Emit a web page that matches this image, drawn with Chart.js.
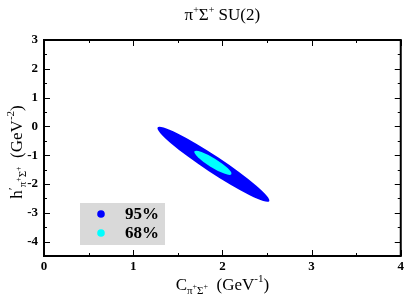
<!DOCTYPE html>
<html><head><meta charset="utf-8">
<script src="https://cdn.jsdelivr.net/npm/chart.js@4.4.1/dist/chart.umd.min.js"></script>
<style>html,body{margin:0;padding:0;background:#fff}#wrap{width:407px;height:300px}</style>
</head><body><div id="wrap"><canvas id="c" width="407" height="300"></canvas></div>
<script>
// ---- data ----
const contourLabels = ['95%', '68%'];
// major-axis end points of each confidence ellipse (data units)
const tipAx = [1.274, 1.687];
const tipAy = [-0.035, -0.865];
const tipBx = [2.525, 2.100];
const tipBy = [-2.595, -1.660];
// minor/major axis ratio of each ellipse
const axisRatio = [0.125, 0.21];
const xTicks = [0, 1, 2, 3, 4];
const yTicks = [3, 2, 1, 0, -1, -2, -3, -4];
const xRange = [0, 4];
const yRange = [-4.5, 3];
const colors = ['#0000ff', '#00ffff'];

const SERIF = '"Liberation Serif","DejaVu Serif",serif';

function drawRuns(ctx, runs, cx, y) {
  let w = 0;
  runs.forEach(r => { ctx.font = (r.bold ? 'bold ' : '') + r.size + 'px ' + SERIF; r.w = ctx.measureText(r.t).width; w += r.w; });
  let x = cx - w / 2;
  ctx.textAlign = 'left'; ctx.textBaseline = 'alphabetic';
  runs.forEach(r => { ctx.font = (r.bold ? 'bold ' : '') + r.size + 'px ' + SERIF; ctx.fillText(r.t, x, y + (r.dy || 0)); x += r.w; });
}

const ellipsePlugin = {
  id: 'ellipses',
  beforeDatasetsDraw(chart) {
    const ctx = chart.ctx, a = chart.chartArea;
    ctx.save();
    ctx.beginPath(); ctx.rect(a.left, a.top, a.right - a.left, a.bottom - a.top); ctx.clip();
    chart.data.datasets.forEach((ds, i) => {
      const meta = chart.getDatasetMeta(i);
      const p1 = meta.data[0], p2 = meta.data[1];
      const cx = (p1.x + p2.x) / 2, cy = (p1.y + p2.y) / 2;
      const rx = Math.hypot(p2.x - p1.x, p2.y - p1.y) / 2;
      const ang = Math.atan2(p2.y - p1.y, p2.x - p1.x);
      ctx.beginPath();
      ctx.ellipse(cx, cy, rx, rx * ds.ratio, ang, 0, Math.PI * 2);
      ctx.fillStyle = ds.backgroundColor;
      ctx.fill();
    });
    ctx.restore();
  },
  afterDraw(chart) {
    const ctx = chart.ctx, a = chart.chartArea;
    const xs = chart.scales.x, ys = chart.scales.y;
    ctx.save();
    ctx.strokeStyle = '#000'; ctx.lineWidth = 1;
    // inward ticks on all sides
    for (let v = xRange[0]; v <= xRange[1] + 1e-9; v += 0.5) {
      const px = Math.round(xs.getPixelForValue(v)) + 0.5;
      const len = Math.abs(v - Math.round(v)) < 1e-9 ? 6 : 3;
      ctx.beginPath(); ctx.moveTo(px, a.bottom); ctx.lineTo(px, a.bottom - len); ctx.stroke();
      ctx.beginPath(); ctx.moveTo(px, a.top); ctx.lineTo(px, a.top + len); ctx.stroke();
    }
    for (let v = yRange[0]; v <= yRange[1] + 1e-9; v += 0.5) {
      const py = Math.round(ys.getPixelForValue(v)) + 0.5;
      const len = Math.abs(v - Math.round(v)) < 1e-9 ? 6 : 3;
      ctx.beginPath(); ctx.moveTo(a.left, py); ctx.lineTo(a.left + len, py); ctx.stroke();
      ctx.beginPath(); ctx.moveTo(a.right, py); ctx.lineTo(a.right - len, py); ctx.stroke();
    }
    // frame
    ctx.lineWidth = 2;
    ctx.strokeRect(a.left, a.top, a.right - a.left, a.bottom - a.top);

    // legend
    ctx.fillStyle = '#d9d9d9';
    ctx.fillRect(80, 203, 85, 42);
    chart.data.datasets.forEach((ds, i) => {
      const y = 214 + i * 19;
      ctx.fillStyle = ds.backgroundColor;
      ctx.beginPath(); ctx.arc(101, y, 3.8, 0, Math.PI * 2); ctx.fill();
      ctx.fillStyle = '#000';
      ctx.font = 'bold 17px ' + SERIF;
      ctx.textAlign = 'left'; ctx.textBaseline = 'middle';
      ctx.fillText(ds.label, 125, y + 1);
    });

    ctx.fillStyle = '#000';
    // title
    drawRuns(ctx, [
      {t: 'π', size: 17}, {t: '+', size: 10, dy: -7}, {t: 'Σ', size: 17}, {t: '+', size: 10, dy: -7}, {t: ' SU(2)', size: 17}
    ], (a.left + a.right) / 2, 20);
    // x title
    drawRuns(ctx, [
      {t: 'C', size: 17}, {t: 'π', size: 11, dy: 4}, {t: '+', size: 8, dy: -1}, {t: 'Σ', size: 11, dy: 4}, {t: '+', size: 8, dy: -1},
      {t: '  (GeV', size: 17}, {t: '-1', size: 11, dy: -8}, {t: ')', size: 17}
    ], (a.left + a.right) / 2, 290);
    // y title
    ctx.save();
    ctx.translate(22, (a.top + a.bottom) / 2 + 4);
    ctx.rotate(-Math.PI / 2);
    drawRuns(ctx, [
      {t: 'h', size: 17}, {t: '′', size: 13, dy: -5}, {t: 'π', size: 11, dy: 4}, {t: '+', size: 8, dy: -1}, {t: 'Σ', size: 11, dy: 4}, {t: '+', size: 8, dy: -1},
      {t: '  (GeV', size: 17}, {t: '-2', size: 11, dy: -8}, {t: ')', size: 17}
    ], 0, 0);
    ctx.restore();
    ctx.restore();
  }
};

const datasets = contourLabels.map((lab, i) => ({
  label: lab,
  data: [{x: tipAx[i], y: tipAy[i]}, {x: tipBx[i], y: tipBy[i]}],
  ratio: axisRatio[i],
  backgroundColor: colors[i],
  borderColor: colors[i],
  pointRadius: 0,
  pointHoverRadius: 0,
  showLine: false
}));

new Chart(document.getElementById('c'), {
  type: 'scatter',
  data: {datasets},
  options: {
    responsive: false,
    animation: false,
    events: [],
    layout: {padding: {top: 40, right: 5, left: 0, bottom: 0}},
    plugins: {legend: {display: false}, title: {display: false}, tooltip: {enabled: false}},
    scales: {
      x: {
        type: 'linear', min: xRange[0], max: xRange[1],
        afterBuildTicks: s => { s.ticks = xTicks.map(v => ({value: v})); },
        afterFit: s => { s.height = 44; },
        grid: {display: false, drawTicks: false},
        border: {display: false},
        ticks: {padding: 3, color: '#000', font: {family: SERIF, size: 13, weight: 'bold'}}
      },
      y: {
        type: 'linear', min: yRange[0], max: yRange[1],
        afterBuildTicks: s => { s.ticks = yTicks.map(v => ({value: v})); },
        afterFit: s => { s.width = 44; },
        grid: {display: false, drawTicks: false},
        border: {display: false},
        ticks: {padding: 6, color: '#000', font: {family: SERIF, size: 13, weight: 'bold'}}
      }
    }
  },
  plugins: [ellipsePlugin]
});
</script></body></html>
